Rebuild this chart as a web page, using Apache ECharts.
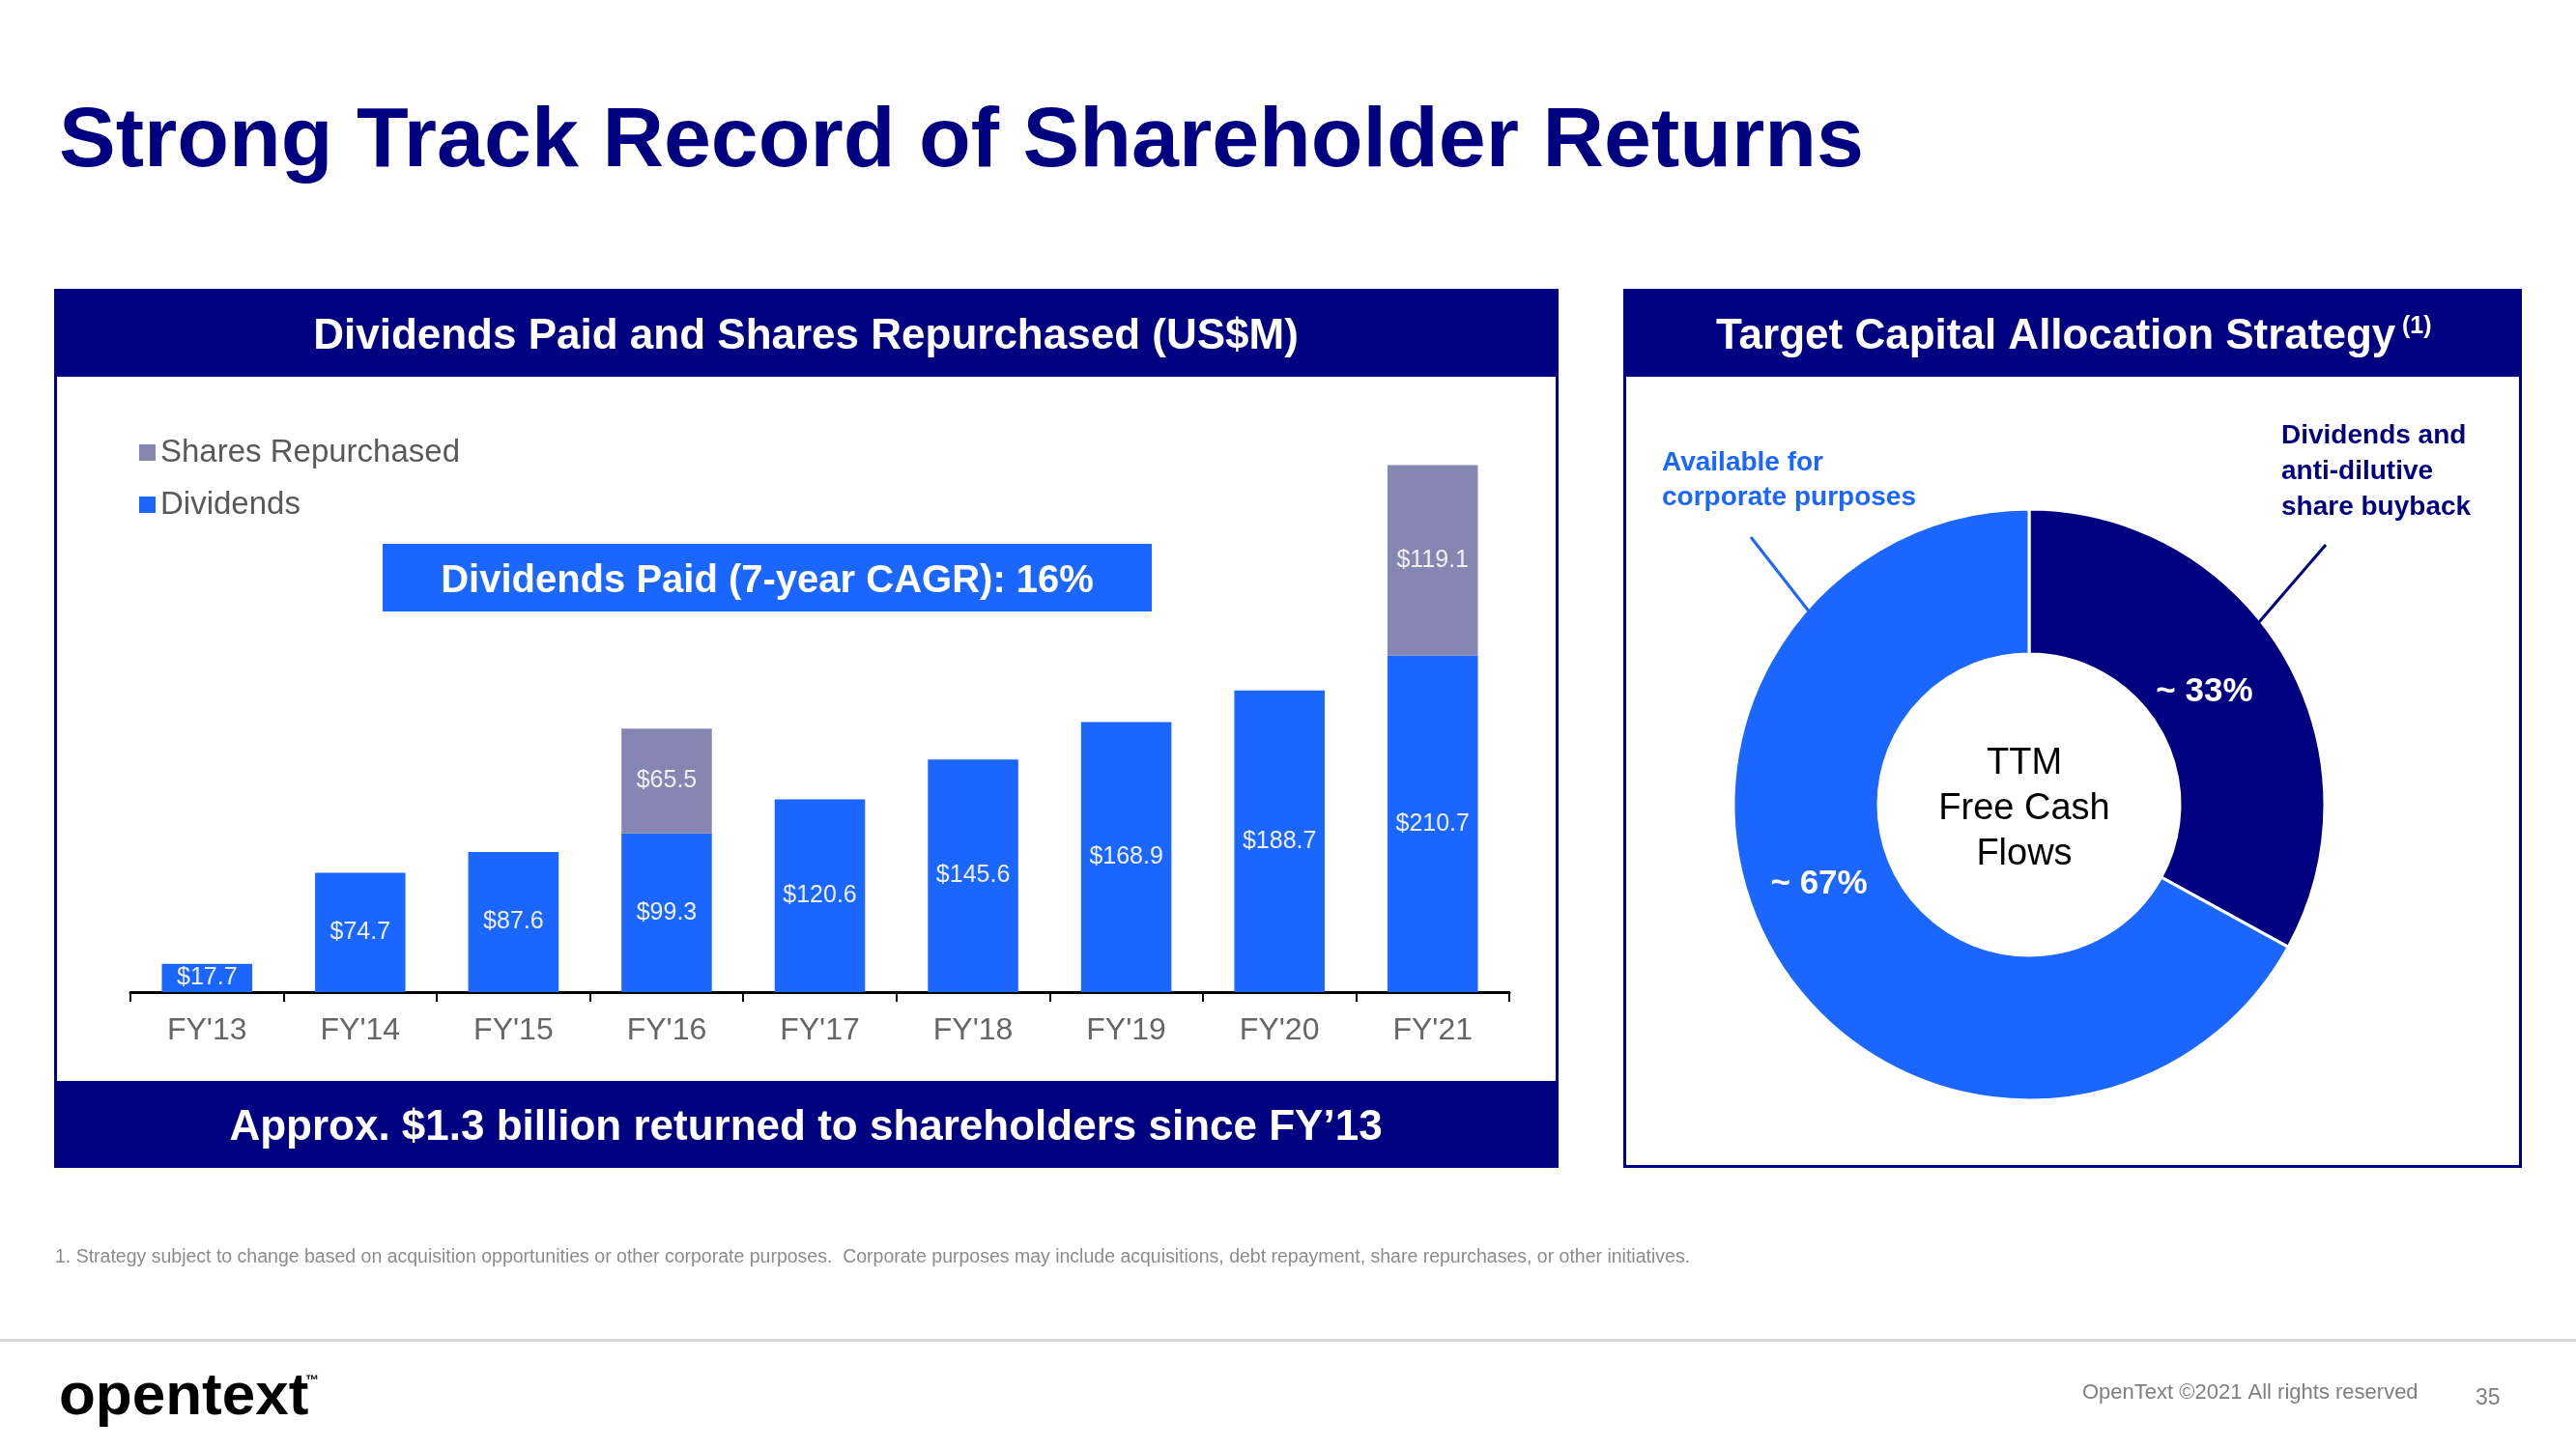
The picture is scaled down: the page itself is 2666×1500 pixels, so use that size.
<!DOCTYPE html>
<html>
<head>
<meta charset="utf-8">
<script src="https://cdn.jsdelivr.net/npm/echarts@6/dist/echarts.min.js"></script>
<style>
  html, body { margin: 0; padding: 0; background: #ffffff; }
  #chart { width: 2666px; height: 1500px; }
</style>
</head>
<body>
<div id="chart"></div>
<script>
// ---- Data ----
const categories = ["FY'13", "FY'14", "FY'15", "FY'16", "FY'17", "FY'18", "FY'19", "FY'20", "FY'21"];
const dividends = [17.7, 74.7, 87.6, 99.3, 120.6, 145.6, 168.9, 188.7, 210.7];
const sharesRepurchased = [null, null, null, 65.5, null, null, null, null, 119.1];
const seriesNames = ['Shares Repurchased', 'Dividends'];

const allocationNames = ['Dividends and anti-dilutive share buyback', 'Available for corporate purposes'];
const allocationValues = [33, 67];
const allocationLabels = ['~ 33%', '~ 67%'];

// ---- Styling constants ----
const NAVY = '#000080';
const BLUE = '#1a66ff';
const GRAY = '#8686b3';
const FONT = '"Liberation Sans", Arial, Helvetica, sans-serif';

const chart = echarts.init(document.getElementById('chart'), null, { renderer: 'canvas', width: 2666, height: 1500 });

function txt(text, x, y, size, color, opts) {
  opts = opts || {};
  return {
    type: 'text', x: x, y: y, z: 20, silent: true,
    style: {
      text: text, fill: color, fontSize: size,
      fontWeight: opts.weight || 'normal', fontFamily: FONT,
      align: opts.align || 'left', verticalAlign: opts.valign || 'middle',
      lineHeight: opts.lineHeight
    }
  };
}

const graphics = [
  // slide title
  txt('Strong Track Record of Shareholder Returns', 61, 148, 88, NAVY, { weight: 'bold' }),
  // left panel
  { type: 'rect', z: 1, silent: true, shape: { x: 57.5, y: 300.5, width: 1554, height: 907 }, style: { fill: 'none', stroke: NAVY, lineWidth: 3 } },
  { type: 'rect', z: 1, silent: true, shape: { x: 56, y: 299, width: 1557, height: 91 }, style: { fill: NAVY } },
  { type: 'rect', z: 1, silent: true, shape: { x: 56, y: 1119, width: 1557, height: 90 }, style: { fill: NAVY } },
  txt('Dividends Paid and Shares Repurchased (US$M)', 834, 349, 44, '#ffffff', { weight: 'bold', align: 'center' }),
  { type: 'rect', z: 1, silent: true, shape: { x: 396, y: 563, width: 796, height: 70 }, style: { fill: BLUE } },
  txt('Dividends Paid (7-year CAGR): 16%', 794, 602, 40, '#ffffff', { weight: 'bold', align: 'center' }),
  txt('Approx. $1.3 billion returned to shareholders since FY\u201913', 834, 1168, 44, '#ffffff', { weight: 'bold', align: 'center' }),
  // right panel
  { type: 'rect', z: 1, silent: true, shape: { x: 1681.5, y: 300.5, width: 927, height: 907 }, style: { fill: 'none', stroke: NAVY, lineWidth: 3 } },
  { type: 'rect', z: 1, silent: true, shape: { x: 1680, y: 299, width: 930, height: 91 }, style: { fill: NAVY } },
  txt('Target Capital Allocation Strategy', 1776, 349, 44, '#ffffff', { weight: 'bold' }),
  txt('(1)', 2486, 338, 25, '#ffffff', { weight: 'bold' }),
  txt('Available for\ncorporate purposes', 1720, 497, 28, BLUE, { weight: 'bold', lineHeight: 36 }),
  txt('Dividends and\nanti-dilutive\nshare buyback', 2361, 488, 28, NAVY, { weight: 'bold', lineHeight: 37 }),
  { type: 'line', z: 5, silent: true, shape: { x1: 1812, y1: 556, x2: 1873, y2: 634 }, style: { stroke: BLUE, lineWidth: 3 } },
  { type: 'line', z: 5, silent: true, shape: { x1: 2407, y1: 564, x2: 2338, y2: 644 }, style: { stroke: NAVY, lineWidth: 3 } },
  txt('TTM\nFree Cash\nFlows', 2095, 838, 38, '#000000', { align: 'center', lineHeight: 47 }),
  // footer
  txt('1. Strategy subject to change based on acquisition opportunities or other corporate purposes.  Corporate purposes may include acquisitions, debt repayment, share repurchases, or other initiatives.', 57, 1302, 19.5, '#8c8c8c'),
  { type: 'rect', z: 1, silent: true, shape: { x: 0, y: 1386, width: 2666, height: 3 }, style: { fill: '#d9d9d9' } },
  txt('opentext', 61, 1447, 62, '#000000', { weight: 'bold' }),
  txt('\u2122', 316, 1429, 14, '#000000', { weight: 'bold' }),
  txt('OpenText \u00a92021 All rights reserved', 2155, 1442, 22, '#7f7f7f'),
  txt('35', 2562, 1448, 23, '#7f7f7f')
];

const option = {
  animation: false,
  backgroundColor: '#ffffff',
  textStyle: { fontFamily: FONT },
  legend: {
    orient: 'vertical',
    left: 139, top: 447,
    itemWidth: 17, itemHeight: 17, itemGap: 21,
    icon: 'rect',
    data: seriesNames,
    textStyle: { color: '#595959', fontSize: 33, fontFamily: FONT },
    selectedMode: false
  },
  grid: { left: 135, right: 1104, bottom: 473, top: 448, containLabel: false },
  xAxis: {
    type: 'category',
    data: categories,
    axisLine: { show: true, lineStyle: { color: '#000000', width: 3 } },
    axisTick: { show: true, length: 10, lineStyle: { color: '#000000', width: 2 } },
    axisLabel: { color: '#666666', fontSize: 32, margin: 24, fontFamily: FONT }
  },
  yAxis: { type: 'value', min: 0, max: 350, show: false, splitLine: { show: false } },
  series: [
    {
      name: 'Dividends', type: 'bar', stack: 'total', data: dividends, barWidth: '59%',
      itemStyle: { color: BLUE },
      label: { show: true, position: 'inside', color: '#f0f0f0', fontSize: 25, fontFamily: FONT,
        formatter: p => '$' + Number(p.value).toFixed(1) }
    },
    {
      name: 'Shares Repurchased', type: 'bar', stack: 'total', data: sharesRepurchased, barWidth: '59%',
      itemStyle: { color: GRAY },
      label: { show: true, position: 'inside', color: '#f0f0f0', fontSize: 25, fontFamily: FONT,
        formatter: p => (p.value == null ? '' : '$' + Number(p.value).toFixed(1)) }
    },
    {
      name: 'Allocation', type: 'pie',
      center: [2100, 833], radius: [156, 306],
      startAngle: 90, clockwise: true,
      avoidLabelOverlap: false,
      silent: true,
      itemStyle: { borderColor: '#ffffff', borderWidth: 3 },
      label: { show: true, position: 'inside', color: '#ffffff', fontSize: 35, fontWeight: 'bold', fontFamily: FONT,
        formatter: p => allocationLabels[p.dataIndex] },
      labelLine: { show: false },
      labelLayout: p => (p.dataIndex === 0 ? { dx: -20, dy: 2 } : { dx: -16, dy: -37 }),
      data: allocationValues.map((v, i) => ({
        value: v, name: allocationNames[i],
        itemStyle: { color: i === 0 ? NAVY : BLUE }
      }))
    }
  ],
  graphic: graphics
};

chart.setOption(option);
</script>
</body>
</html>
